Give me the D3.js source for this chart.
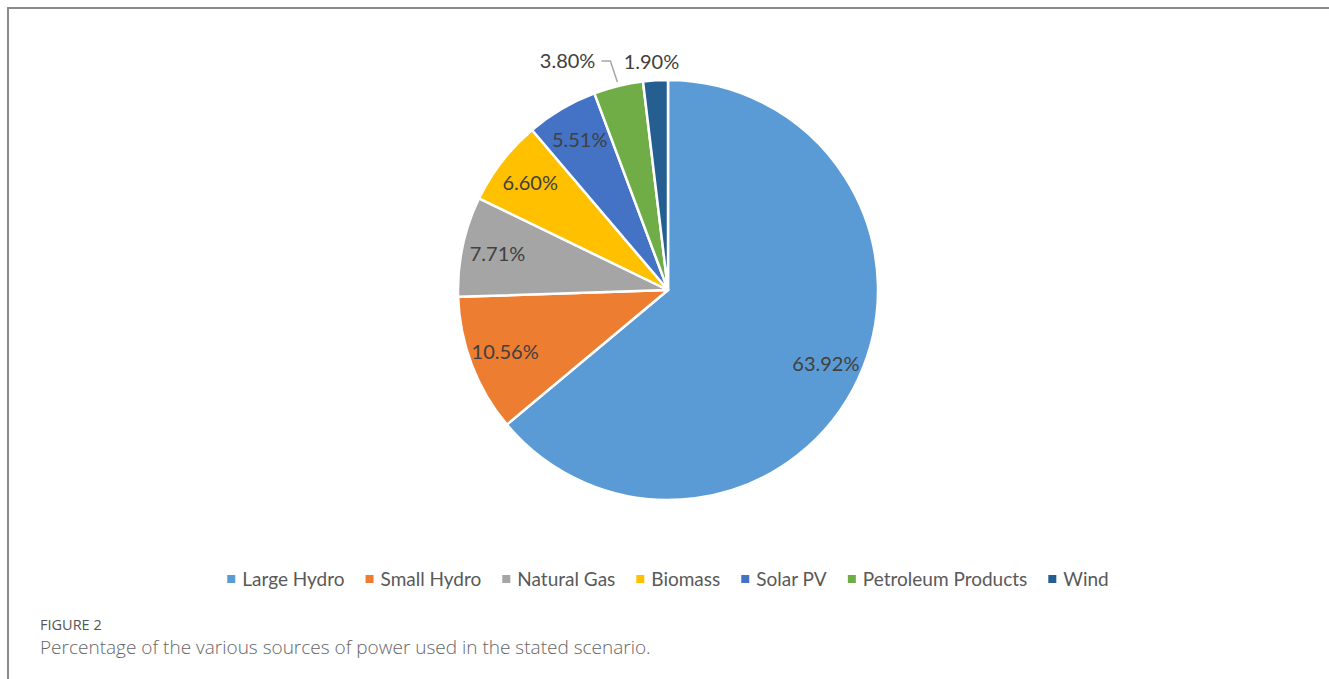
<!DOCTYPE html>
<html>
<head>
<meta charset="utf-8">
<script src="https://cdn.jsdelivr.net/npm/d3@7"></script>
<style>
  body { margin: 0; background: #fff; }
  svg { display: block; }
</style>
</head>
<body>
<div id="chart"></div>
<script>
const sources = ['Large Hydro', 'Small Hydro', 'Natural Gas', 'Biomass', 'Solar PV', 'Petroleum Products', 'Wind'];
const shares = [63.92, 10.56, 7.71, 6.60, 5.51, 3.80, 1.90];
const colours = ['#5b9bd5', '#ed7d31', '#a5a5a5', '#ffc000', '#4472c4', '#70ad47', '#255e91'];

const w = 1329, h = 679;
const cx = 668, cy = 290, r = 210;
const font = 'Lato, "Open Sans", sans-serif';

const svg = d3.select('#chart').append('svg').attr('width', w).attr('height', h);

// frame round the figure (open to the right and bottom)
svg.append('path')
  .attr('d', 'M8,' + h + ' V8 H' + w)
  .attr('fill', 'none').attr('stroke', '#8a8a8a').attr('stroke-width', 2);

const data = sources.map((s, i) => ({ name: s, value: shares[i] }));
const color = d3.scaleOrdinal().domain(sources).range(colours);

const pie = d3.pie().value(d => d.value).sort(null);
const arcs = pie(data);
const arc = d3.arc().innerRadius(0).outerRadius(r);
const labelArc = d3.arc().innerRadius(r * 0.83).outerRadius(r * 0.83);

const g = svg.append('g').attr('transform', 'translate(' + cx + ',' + cy + ')');

g.selectAll('path.slice').data(arcs).enter().append('path')
  .attr('class', 'slice')
  .attr('d', arc)
  .attr('fill', d => color(d.data.name))
  .attr('stroke', '#fff').attr('stroke-width', 2.5).attr('stroke-linejoin', 'round');

const fmt = d => d.toFixed(2) + '%';

// labels inside the bigger slices
g.selectAll('text.inside').data(arcs.filter(d => d.data.value > 5)).enter().append('text')
  .attr('class', 'inside')
  .attr('x', d => labelArc.centroid(d)[0])
  .attr('y', d => labelArc.centroid(d)[1])
  .attr('text-anchor', 'middle').attr('dy', '0.35em')
  .style('font-family', font).style('font-size', '20px')
  .attr('fill', '#404040')
  .text(d => fmt(d.data.value));

// the two small slices: labels outside
const petrol = arcs[5], wind = arcs[6];
const edge = d3.arc().innerRadius(r + 4).outerRadius(r + 4).centroid(petrol);
const ly = -r - 19;
g.append('path')
  .attr('d', 'M' + edge[0] + ',' + edge[1] + ' L' + (edge[0] - 7) + ',' + ly + ' H' + (edge[0] - 16))
  .attr('fill', 'none').attr('stroke', '#a6a6a6').attr('stroke-width', 1.5);
g.append('text')
  .attr('x', edge[0] - 22).attr('y', ly)
  .attr('text-anchor', 'end').attr('dy', '0.35em')
  .style('font-family', font).style('font-size', '20px')
  .attr('fill', '#404040')
  .text(fmt(petrol.data.value));
const wc = d3.arc().innerRadius(r).outerRadius(r).centroid(wind);
g.append('text')
  .attr('x', wc[0] - 4).attr('y', ly + 1)
  .attr('text-anchor', 'middle').attr('dy', '0.35em')
  .style('font-family', font).style('font-size', '20px')
  .attr('fill', '#404040')
  .text(fmt(wind.data.value));

// legend
const legend = svg.append('g').attr('transform', 'translate(0,579)');
const items = legend.selectAll('g').data(sources).enter().append('g');
items.append('rect').attr('width', 8).attr('height', 8).attr('y', -4)
  .attr('fill', d => color(d));
items.append('text').attr('x', 15).attr('dy', '0.35em')
  .style('font-family', font).style('font-size', '19px')
  .attr('fill', '#595959')
  .text(d => d);
const gap = 21;
const widths = items.nodes().map(n => n.getBBox().width);
const total = d3.sum(widths) + gap * (widths.length - 1);
let xpos = cx - total / 2;
items.attr('transform', (d, i) => {
  const t = 'translate(' + xpos + ',0)';
  xpos += widths[i] + gap;
  return t;
});

// caption
svg.append('text').attr('x', 40).attr('y', 630)
  .style('font-family', '"Open Sans", sans-serif').style('font-size', '14.5px')
  .attr('fill', '#555').text('FIGURE 2');
svg.append('text').attr('x', 40).attr('y', 654)
  .style('font-family', '"Open Sans", sans-serif').style('font-size', '19px').style('font-weight', 300)
  .attr('fill', '#666').text('Percentage of the various sources of power used in the stated scenario.');
</script>
</body>
</html>
